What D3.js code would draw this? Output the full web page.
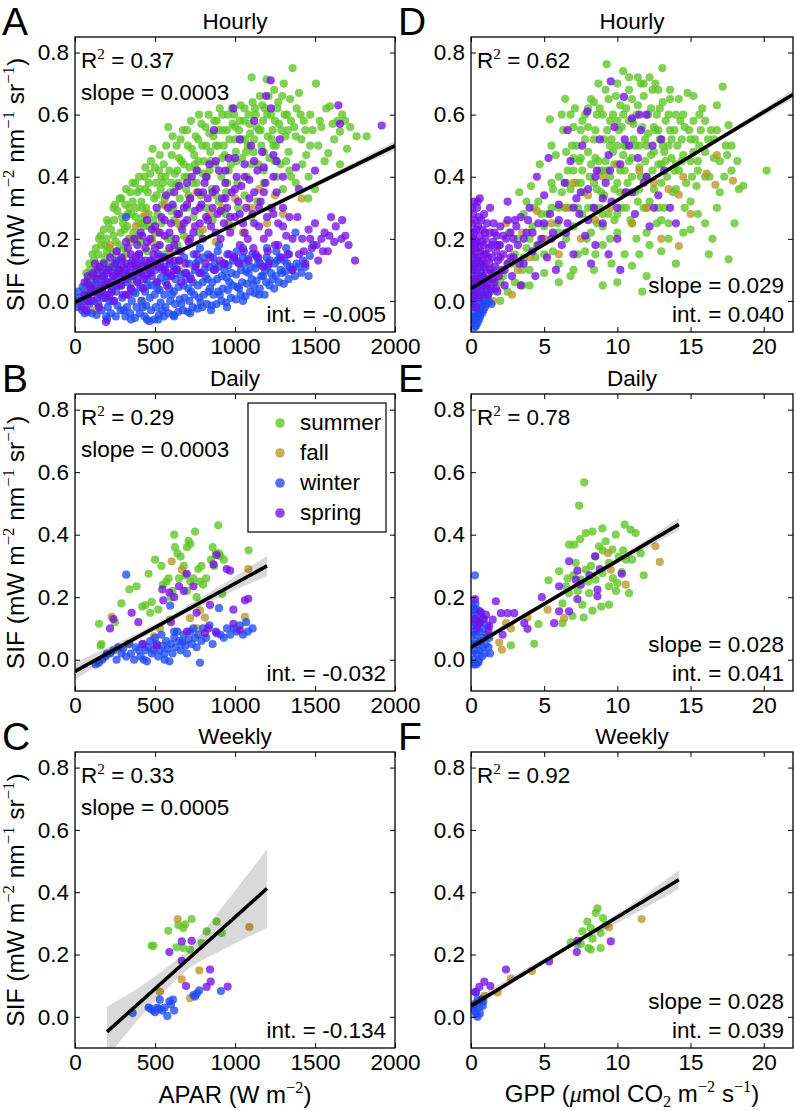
<!DOCTYPE html>
<html><head><meta charset="utf-8">
<script src="https://cdn.jsdelivr.net/npm/d3@7"></script>
<style>body{margin:0;background:#fff}svg{display:block}</style>
</head><body>
<svg id="chart" width="796" height="1111"></svg>
<script>
// ---------- DATA ----------
const seasons = ["summer", "fall", "winter", "spring"];
const xTicksApar = [0, 500, 1000, 1500, 2000];
const xTicksGpp = [0, 5, 10, 15, 20];
const yTicks = [0, 0.2, 0.4, 0.6, 0.8];
const panelLetters = ["A", "B", "C", "D", "E", "F"];
const panelTitles = ["Hourly", "Daily", "Weekly", "Hourly", "Daily", "Weekly"];
const r2Labels = ["0.37", "0.29", "0.33", "0.62", "0.78", "0.92"];
const slopeLabels = ["0.0003", "0.0003", "0.0005", "0.029", "0.028", "0.028"];
const intLabels = ["-0.005", "-0.032", "-0.134", "0.040", "0.041", "0.039"];

// Panel A: APAR hourly
const aparHourlySummer = [[60,0.04],[80,0.07],[95,0.1],[110,0.06],[120,0.13],[130,0.09],[145,0.15],[155,0.11],[165,0.18],[175,0.08],[185,0.14],[195,0.2],[205,0.12],[215,0.17],[225,0.23],[235,0.15],[245,0.26],[255,0.19],[265,0.29],[275,0.13],[285,0.22],[295,0.27],[305,0.17],[315,0.31],[325,0.24],[335,0.2],[345,0.35],[355,0.28],[365,0.22],[375,0.38],[385,0.3],[395,0.25],[405,0.36],[415,0.32],[425,0.27],[435,0.4],[445,0.3],[455,0.35],[465,0.24],[475,0.45],[485,0.49],[495,0.33],[505,0.38],[515,0.28],[525,0.42],[535,0.36],[545,0.31],[555,0.44],[565,0.4],[583,0.56],[595,0.35],[605,0.47],[615,0.3],[625,0.41],[635,0.5],[645,0.38],[655,0.33],[665,0.45],[675,0.55],[685,0.4],[695,0.36],[705,0.5],[715,0.43],[725,0.58],[735,0.38],[745,0.47],[755,0.53],[765,0.42],[775,0.6],[785,0.34],[795,0.5],[805,0.45],[815,0.56],[825,0.4],[835,0.6],[845,0.48],[855,0.36],[865,0.53],[875,0.44],[885,0.58],[895,0.5],[905,0.62],[915,0.4],[925,0.55],[935,0.47],[945,0.35],[955,0.6],[965,0.52],[975,0.44],[985,0.57],[995,0.6],[1005,0.48],[1015,0.38],[1025,0.55],[1035,0.63],[1045,0.46],[1055,0.58],[1065,0.52],[1075,0.4],[1085,0.6],[1095,0.54],[1104,0.72],[1115,0.48],[1125,0.62],[1135,0.56],[1145,0.44],[1155,0.66],[1165,0.5],[1175,0.58],[1185,0.62],[1198,0.714],[1205,0.53],[1215,0.46],[1225,0.6],[1235,0.55],[1245,0.68],[1255,0.5],[1265,0.62],[1275,0.57],[1285,0.44],[1295,0.66],[1305,0.7],[1315,0.53],[1325,0.6],[1335,0.48],[1345,0.65],[1360,0.75],[1370,0.56],[1385,0.62],[1400,0.67],[1415,0.52],[1430,0.58],[1445,0.47],[1458,0.33],[1470,0.6],[1485,0.55],[1506,0.7],[1520,0.5],[1540,0.56],[1560,0.45],[1583,0.476],[1594,0.627],[1620,0.52],[1640,0.58],[1656,0.44],[1656,0.545],[1688,0.58],[1700,0.49],[1823,0.53],[500,0.22],[540,0.25],[580,0.2],[620,0.26],[660,0.24],[700,0.3],[740,0.27],[780,0.22],[820,0.3],[860,0.26],[900,0.32],[940,0.28],[980,0.24],[1020,0.3],[1060,0.34],[1100,0.27],[1140,0.32],[1180,0.38],[1220,0.3],[1260,0.4],[1300,0.36],[1340,0.42],[1380,0.38],[1420,0.44],[1460,0.4],[1500,0.36],[100,0.03],[140,0.05],[180,0.06],[230,0.1],[270,0.08],[320,0.15],[370,0.12],[410,0.19],[450,0.16],[480,0.2],[520,0.18],[560,0.15],[600,0.2],[640,0.18],[680,0.21],[760,0.38],[840,0.42],[920,0.46],[1000,0.52],[1080,0.5],[1160,0.55],[1240,0.5],[1320,0.45],[150,0.2],[170,0.12],[200,0.16],[210,0.25],[240,0.21],[250,0.31],[280,0.18],[290,0.33],[310,0.23],[330,0.28],[350,0.19],[360,0.32],[380,0.27],[390,0.35],[400,0.21],[420,0.3],[430,0.24],[440,0.36],[460,0.28],[470,0.41],[490,0.26],[500,0.43],[510,0.34],[530,0.47],[550,0.38],[570,0.5],[590,0.42],[600,0.29],[610,0.53],[630,0.37],[650,0.46],[660,0.52],[680,0.44],[700,0.55],[710,0.34],[730,0.49],[750,0.44],[770,0.52],[790,0.57],[800,0.41],[820,0.5],[840,0.54],[850,0.45],[870,0.58],[880,0.5],[900,0.55],[920,0.6],[930,0.5],[950,0.55],[960,0.42],[980,0.62],[1000,0.56],[1010,0.45],[1030,0.58],[1040,0.52],[1060,0.62],[1070,0.48],[1090,0.57],[1110,0.64],[1120,0.52],[1130,0.6],[1150,0.55],[1170,0.63],[1180,0.48],[1200,0.6],[1210,0.66],[1230,0.52],[1250,0.58],[1270,0.64],[1290,0.55],[1310,0.6],[1330,0.55],[1350,0.58],[1380,0.53],[1410,0.6],[1440,0.55],[1470,0.5],[1530,0.58],[1570,0.62],[1610,0.57],[1670,0.6],[1720,0.56],[1760,0.53],[1250,0.45],[1180,0.42],[1100,0.44],[1350,0.4],[950,0.38],[880,0.34],[600,0.38],[700,0.4],[770,0.45],[560,0.33],[640,0.42],[70,0.09],[90,0.12],[110,0.15],[130,0.17],[160,0.21],[180,0.23],[200,0.26],[240,0.3],[280,0.33],[320,0.36],[360,0.38],[400,0.4],[440,0.43],[125,0.1],[190,0.18],[260,0.16],[300,0.25],[340,0.3],[380,0.2],[420,0.25],[460,0.38],[540,0.4]];
const aparHourlyFall = [[50,-0.02],[80,0.03],[120,-0.03],[160,0.05],[219,0.18],[250,0.1],[300,0.14],[340,0.2],[380,0.24],[420,0.0],[440,0.28],[480,0.19],[520,0.22],[560,0.31],[600,0.16],[640,0.25],[700,0.2],[720,0.33],[760,0.35],[800,0.23],[840,0.28],[880,0.19],[920,0.3],[960,0.25],[1000,0.33],[1050,0.22],[1100,0.3],[1150,0.36],[1200,0.25],[1250,0.34],[1300,0.28],[1417,0.33],[650,0.1],[350,0.06]];
const aparHourlyWinter = [[15,-0.02],[25,0.01],[18,0.03],[45,-0.03],[55,0.0],[48,0.045],[75,-0.035],[85,0.02],[78,0.06],[90,-0.01],[105,-0.04],[115,0.0],[108,0.04],[118,0.08],[135,-0.045],[145,-0.01],[140,0.03],[148,0.07],[165,-0.03],[175,0.01],[168,0.05],[178,0.09],[195,-0.05],[205,-0.02],[198,0.02],[208,0.06],[192,0.1],[225,-0.04],[235,0.0],[228,0.04],[238,0.08],[232,0.11],[255,-0.05],[265,-0.015],[258,0.03],[268,0.07],[262,0.12],[285,-0.03],[295,0.01],[288,0.05],[298,0.09],[292,0.13],[315,-0.05],[325,-0.02],[318,0.02],[328,0.06],[322,0.1],[319,0.27],[345,-0.04],[355,0.0],[348,0.04],[358,0.08],[352,0.12],[375,-0.055],[385,-0.02],[378,0.025],[388,0.065],[382,0.11],[405,-0.04],[415,0.0],[408,0.045],[418,0.085],[412,0.13],[435,-0.05],[445,-0.015],[438,0.03],[448,0.07],[442,0.11],[465,-0.065],[475,-0.03],[468,0.01],[478,0.05],[472,0.09],[470,0.13],[495,-0.06],[505,-0.02],[498,0.02],[508,0.06],[502,0.1],[525,-0.045],[535,-0.005],[528,0.035],[538,0.075],[532,0.12],[555,-0.05],[565,-0.02],[558,0.02],[568,0.06],[562,0.1],[560,0.14],[585,-0.04],[595,0.0],[588,0.04],[598,0.08],[592,0.12],[615,-0.045],[625,-0.01],[618,0.03],[628,0.07],[622,0.11],[645,-0.035],[655,0.005],[648,0.045],[658,0.085],[652,0.13],[675,-0.03],[685,0.01],[678,0.05],[688,0.09],[682,0.14],[705,-0.035],[715,0.0],[708,0.04],[718,0.08],[712,0.12],[735,-0.02],[745,0.02],[738,0.06],[748,0.1],[742,0.15],[765,-0.025],[775,0.01],[768,0.05],[778,0.09],[772,0.13],[795,-0.02],[805,0.02],[798,0.06],[808,0.1],[802,0.14],[825,-0.01],[835,0.03],[828,0.07],[838,0.11],[832,0.15],[855,-0.015],[865,0.02],[858,0.06],[868,0.1],[862,0.14],[885,-0.01],[895,0.03],[888,0.07],[898,0.11],[892,0.16],[915,0.0],[925,0.04],[918,0.08],[928,0.12],[945,-0.005],[955,0.035],[948,0.075],[958,0.115],[952,0.15],[975,0.01],[985,0.05],[978,0.09],[988,0.13],[1005,0.005],[1015,0.045],[1008,0.085],[1018,0.125],[1012,0.16],[1035,0.02],[1045,0.06],[1038,0.1],[1048,0.14],[1065,0.015],[1075,0.055],[1068,0.095],[1078,0.135],[1095,0.03],[1105,0.07],[1098,0.11],[1108,0.15],[1125,0.025],[1135,0.065],[1128,0.105],[1138,0.14],[1155,0.04],[1165,0.08],[1158,0.12],[1185,0.02],[1195,0.06],[1188,0.1],[1198,0.14],[1215,0.05],[1225,0.09],[1218,0.13],[1245,0.04],[1255,0.08],[1248,0.12],[1258,0.16],[1275,0.06],[1285,0.1],[1278,0.14],[1305,0.055],[1315,0.095],[1308,0.13],[1335,0.07],[1345,0.11],[1338,0.15],[1375,0.08],[1385,0.12],[1378,0.22],[1415,0.09],[1425,0.13],[1460,0.08],[1468,0.145],[1490,0.18],[30,0.0],[60,0.02],[95,0.03],[125,0.05],[155,0.02],[185,0.07],[215,0.0],[245,0.05],[275,0.1],[305,-0.03],[335,0.08],[365,0.03],[395,0.09],[425,-0.02],[455,0.05],[485,0.11],[515,0.04],[545,-0.03],[575,0.08],[605,0.02],[635,0.1],[665,-0.01],[695,0.07],[725,0.03],[755,0.12],[785,-0.005],[815,0.08],[845,0.04],[875,0.12],[905,0.02],[935,0.1],[965,0.06],[995,0.14],[1025,0.04],[1055,0.12],[1085,0.09],[1115,0.05],[1145,0.12],[1175,0.08],[1205,0.11],[1235,0.07],[1265,0.13],[1295,0.09],[1325,0.12],[1355,0.1],[1400,0.11],[1440,0.11],[60,-0.04],[200,-0.06],[350,-0.06],[450,-0.06],[520,-0.06],[620,-0.05],[720,-0.04],[850,-0.03],[950,-0.02],[1050,0.0],[1150,0.02],[260,0.13],[400,0.15],[520,0.15],[650,0.16],[780,0.17],[900,0.18],[1050,0.17],[1200,0.17],[1320,0.17]];
const aparHourlySpring = [[40,-0.02],[60,0.02],[70,-0.03],[90,0.05],[100,0.0],[120,0.03],[130,0.07],[140,0.1],[150,-0.02],[160,0.04],[170,0.08],[180,0.12],[190,0.01],[200,0.06],[194,-0.068],[210,0.1],[220,0.14],[230,0.03],[240,0.08],[250,0.12],[260,0.16],[270,0.05],[280,0.1],[290,0.14],[300,0.02],[310,0.07],[320,0.12],[330,0.17],[340,0.09],[350,0.04],[360,0.13],[370,0.2],[380,0.1],[390,0.06],[400,0.15],[410,0.22],[420,0.11],[430,0.07],[440,0.17],[450,0.26],[460,0.12],[470,0.2],[480,0.08],[490,0.15],[500,0.24],[510,0.3],[520,0.11],[530,0.18],[540,0.27],[550,0.14],[560,0.21],[570,0.34],[580,0.09],[590,0.17],[600,0.25],[610,0.31],[620,0.13],[630,0.2],[640,0.28],[650,0.37],[660,0.16],[670,0.23],[680,0.3],[690,0.12],[700,0.26],[710,0.19],[720,0.33],[730,0.4],[740,0.22],[750,0.29],[760,0.15],[770,0.35],[780,0.25],[790,0.31],[800,0.2],[810,0.38],[820,0.27],[830,0.33],[840,0.44],[850,0.24],[860,0.3],[869,0.55],[880,0.36],[890,0.28],[900,0.42],[910,0.2],[920,0.33],[930,0.25],[940,0.38],[950,0.3],[960,0.46],[970,0.22],[980,0.35],[990,0.62],[1000,0.27],[1010,0.4],[1020,0.32],[1030,0.18],[1040,0.37],[1050,0.25],[1060,0.44],[1070,0.3],[1080,0.2],[1090,0.39],[1100,0.5],[1110,0.28],[1120,0.35],[1130,0.15],[1140,0.42],[1150,0.24],[1160,0.32],[1170,0.48],[1180,0.2],[1190,0.38],[1194,0.66],[1200,0.27],[1210,0.12],[1223,0.71],[1225,0.62],[1230,0.3],[1240,0.4],[1250,0.18],[1260,0.35],[1270,0.25],[1280,0.52],[1290,0.14],[1300,0.3],[1320,0.21],[1340,0.27],[1360,0.1],[1380,0.43],[1400,0.15],[1420,0.2],[1440,0.12],[1460,0.23],[1480,0.17],[1500,0.25],[1520,0.13],[1540,0.2],[1560,0.22],[1580,0.16],[1600,0.27],[1620,0.19],[1646,0.63],[1656,0.57],[1665,0.2],[1690,0.21],[1750,0.13],[1917,0.565],[1500,0.42],[1400,0.36],[1120,0.58],[1030,0.52],[60,0.06],[80,0.08],[110,0.09],[125,0.12],[155,0.11],[185,0.05],[215,0.02],[245,0.0],[275,0.09],[305,0.11],[335,0.02],[365,0.08],[395,0.12],[425,0.04],[455,0.09],[485,0.13],[515,0.06],[545,0.1],[575,0.05],[605,0.08],[635,0.1],[665,0.06],[695,0.09],[725,0.07],[755,0.11],[785,0.09],[815,0.12],[845,0.14],[875,0.1],[905,0.13],[935,0.12],[965,0.15],[995,0.14],[1025,0.12],[1055,0.16],[1085,0.13],[1115,0.17],[1145,0.14],[1175,0.11],[1205,0.16],[320,0.19],[350,0.15],[390,0.18],[420,0.21],[450,0.19],[480,0.23],[500,0.17],[530,0.22],[560,0.26],[590,0.22],[620,0.18],[650,0.28],[680,0.25],[700,0.31],[720,0.2],[750,0.24],[780,0.3],[800,0.35],[830,0.26],[860,0.35],[880,0.22],[910,0.29],[940,0.33],[970,0.27],[1000,0.36],[1030,0.28],[1060,0.22],[1090,0.33],[1120,0.25],[1150,0.3],[1180,0.35],[1210,0.22],[1240,0.28],[1270,0.18],[1300,0.24],[1330,0.15],[1360,0.2],[1390,0.27],[1430,0.16],[1470,0.2],[1510,0.18],[1550,0.16],[1590,0.21],[1630,0.24],[1670,0.26],[1710,0.18],[80,0.0],[100,0.04],[140,0.01],[170,0.03],[200,0.09],[230,0.06],[260,0.09],[290,0.05],[320,0.08],[350,0.11],[380,0.14],[410,0.09],[440,0.13],[470,0.1],[500,0.12],[530,0.14],[560,0.11],[590,0.13],[620,0.1],[650,0.13],[700,0.38],[760,0.42],[820,0.4],[880,0.45],[940,0.42],[1000,0.46],[1060,0.4],[1120,0.45],[1180,0.43],[1240,0.47],[1300,0.4],[1260,0.45],[620,0.35],[580,0.3]];

// Panel B: APAR daily
const aparDailySummer = [[150,0.115],[160,0.045],[165,0.05],[250,0.12],[290,0.18],[340,0.225],[385,0.235],[420,0.17],[440,0.175],[460,0.275],[470,0.15],[480,0.185],[500,0.32],[520,0.16],[540,0.3],[550,0.24],[570,0.25],[585,0.26],[600,0.2],[610,0.22],[620,0.4],[625,0.36],[640,0.34],[660,0.33],[680,0.3],[690,0.27],[700,0.36],[710,0.38],[720,0.37],[720,0.25],[740,0.26],[750,0.41],[760,0.2],[770,0.29],[780,0.25],[790,0.3],[800,0.24],[820,0.26],[850,0.32],[860,0.36],[870,0.3],[880,0.34],[895,0.43],[900,0.34],[910,0.33],[920,0.21],[930,0.32],[1085,0.35],[700,0.22],[650,0.26]];
const aparDailyFall = [[229,0.137],[494,0.075],[531,0.1],[604,0.315],[667,0.288],[673,0.06],[594,0.128],[719,0.133],[781,0.158],[812,0.135],[1062,0.137],[1083,0.29],[330,0.05],[760,0.1]];
const aparDailyWinter = [[130,-0.015],[170,0.0],[190,0.01],[220,0.02],[240,0.03],[260,0.0],[270,0.04],[290,0.02],[300,0.035],[320,0.272],[320,0.01],[340,0.05],[350,0.02],[370,0.0],[380,0.04],[400,0.03],[410,0.01],[420,0.05],[430,0.0],[440,0.03],[450,-0.005],[460,0.04],[470,0.06],[480,0.02],[490,0.03],[500,0.07],[510,0.05],[520,0.01],[530,0.03],[540,0.08],[550,0.045],[560,0.02],[570,0.06],[580,0.035],[590,-0.005],[595,0.173],[600,0.05],[610,0.02],[620,0.07],[630,0.04],[640,0.09],[650,0.06],[660,0.03],[670,0.055],[680,0.08],[690,0.045],[700,0.02],[710,0.065],[720,0.09],[730,0.05],[740,0.1],[750,0.07],[760,0.04],[770,0.08],[781,-0.01],[790,0.06],[800,0.1],[820,0.07],[840,0.11],[860,0.05],[880,0.09],[900,0.165],[910,0.08],[930,0.07],[950,0.1],[970,0.08],[990,0.1],[1010,0.09],[1030,0.11],[1050,0.08],[1070,0.12],[1080,0.09],[1110,0.1],[150,-0.01],[200,0.02],[560,0.0],[620,0.09]];
const aparDailySpring = [[219,0.1],[240,0.13],[354,0.15],[396,0.12],[427,0.05],[510,0.045],[546,0.225],[552,0.19],[590,0.215],[620,0.2],[650,0.235],[680,0.22],[698,0.275],[740,0.235],[760,0.15],[812,0.085],[833,0.1],[844,0.175],[865,0.305],[885,0.335],[885,0.085],[948,0.29],[969,0.285],[990,0.16],[990,0.115],[1031,0.095],[1062,0.19],[1083,0.195],[600,0.12],[700,0.09]];

// Panel C: APAR weekly
const aparWeeklySummer = [[479,0.228],[490,0.228],[583,0.276],[635,0.223],[646,0.295],[677,0.285],[688,0.297],[677,0.221],[719,0.216],[729,0.314],[792,0.237],[823,0.274],[885,0.306],[917,0.269]];
const aparWeeklyFall = [[642,0.314],[531,0.08],[667,0.12],[777,0.149],[719,0.06],[1090,0.288]];
const aparWeeklyWinter = [[360,0.012],[460,0.03],[475,0.025],[490,0.02],[500,0.015],[515,0.03],[525,0.025],[530,0.055],[545,0.02],[560,0.03],[577,0.003],[590,0.05],[600,0.04],[612,0.055],[620,0.02],[740,0.07],[750,0.065],[762,0.075],[777,0.085],[912,0.083]];
const aparWeeklySpring = [[590,0.208],[667,0.242],[729,0.244],[667,0.18],[694,0.099],[844,0.152],[823,0.096],[848,0.113],[954,0.097]];

// Panel D: GPP hourly
const gppHourlySummer = [[1.0,0.02],[1.5,0.05],[2.0,0.0],[2.2,0.08],[2.5,0.03],[2.8,0.12],[3.0,0.06],[3.2,0.2],[3.3,0.35],[3.5,0.1],[3.6,0.28],[3.8,0.17],[4.0,0.05],[4.1,0.37],[4.2,0.24],[4.4,0.14],[4.6,0.32],[4.7,0.44],[4.9,0.2],[5.0,0.09],[5.2,0.28],[5.39,0.585],[5.5,0.38],[5.6,0.16],[5.8,0.47],[5.9,0.25],[6.0,0.12],[6.2,0.35],[6.3,0.55],[6.43,0.651],[6.5,0.2],[6.6,0.42],[6.7,0.3],[6.8,0.08],[6.9,0.5],[7.0,0.24],[7.1,0.62],[7.2,0.38],[7.3,0.15],[7.4,0.45],[7.5,0.55],[7.6,0.28],[7.7,0.35],[7.8,0.6],[7.9,0.2],[8.0,0.48],[8.1,0.4],[8.2,0.65],[8.3,0.3],[8.4,0.1],[8.5,0.55],[8.6,0.25],[8.7,0.45],[8.8,0.62],[8.9,0.35],[9.0,0.18],[9.1,0.52],[9.27,0.762],[9.3,0.42],[9.4,0.28],[9.5,0.58],[9.6,0.12],[9.7,0.48],[9.8,0.36],[9.9,0.66],[10.0,0.22],[10.1,0.55],[10.2,0.42],[10.3,0.3],[10.4,0.6],[10.5,0.15],[10.6,0.5],[10.7,0.38],[10.8,0.68],[10.9,0.26],[11.0,0.46],[11.1,0.57],[11.2,0.35],[11.3,0.2],[11.4,0.63],[11.5,0.43],[11.6,0.7],[11.7,0.03],[11.8,0.3],[11.9,0.52],[12.0,0.4],[12.1,0.6],[12.2,0.18],[12.3,0.47],[12.4,0.68],[12.5,0.36],[12.6,0.55],[12.7,0.25],[12.8,0.44],[12.9,0.62],[13.07,0.75],[13.1,0.5],[13.2,0.3],[13.3,0.58],[13.4,0.4],[13.5,0.2],[13.6,0.65],[13.7,0.46],[13.8,0.35],[13.9,0.55],[14.0,0.6],[14.2,0.42],[14.4,0.52],[14.6,0.3],[14.8,0.67],[15.0,0.45],[15.2,0.58],[15.4,0.37],[15.6,0.5],[15.8,0.62],[16.0,0.4],[16.25,0.15],[16.4,0.55],[16.6,0.46],[16.8,0.63],[17.0,0.35],[17.2,0.69],[17.4,0.5],[17.6,0.134],[17.6,0.566],[17.8,0.42],[18.0,0.25],[18.2,0.45],[18.6,0.371],[20.2,0.42],[15.0,0.23],[14.0,0.12],[12.0,0.08],[11.0,0.113],[13.0,0.16],[10.0,0.06],[9.0,0.05],[15.5,0.28],[16.8,0.3],[17.5,0.47],[7.2,0.5],[7.6,0.42],[8.0,0.56],[8.4,0.38],[8.8,0.3],[9.2,0.45],[9.6,0.52],[10.0,0.38],[10.4,0.47],[10.8,0.58],[11.2,0.5],[11.6,0.4],[12.0,0.5],[12.4,0.42],[12.8,0.55],[13.2,0.48],[13.6,0.55],[8.2,0.22],[9.0,0.28],[9.8,0.26],[10.6,0.3],[11.4,0.32],[12.2,0.32],[13.0,0.38],[7.0,0.42],[6.4,0.3],[5.6,0.36],[4.8,0.28],[4.0,0.2],[3.6,0.14],[3.0,0.15],[2.6,0.22],[8.6,0.6],[9.4,0.65],[10.2,0.63],[11.0,0.65],[11.8,0.66],[10.0,0.7],[12.6,0.7],[14.2,0.65],[14.6,0.56],[15.2,0.48],[15.6,0.6],[16.2,0.52],[16.8,0.55],[14.0,0.36],[14.4,0.45],[13.0,0.26],[15.0,0.32],[3.5,0.05],[4.0,0.1],[4.5,0.18],[5.0,0.24],[5.5,0.3],[6.0,0.4],[6.0,0.22],[6.5,0.48],[6.8,0.36],[7.0,0.56],[7.3,0.3],[7.5,0.46],[7.8,0.52],[7.8,0.16],[8.0,0.62],[8.2,0.44],[8.4,0.52],[8.6,0.36],[8.8,0.42],[9.0,0.6],[9.1,0.34],[9.3,0.55],[9.5,0.4],[9.7,0.6],[9.8,0.44],[10.0,0.5],[10.2,0.35],[10.3,0.56],[10.5,0.42],[10.6,0.62],[10.8,0.45],[11.0,0.4],[11.1,0.52],[11.3,0.6],[11.5,0.5],[11.7,0.56],[11.9,0.45],[12.1,0.54],[12.3,0.62],[12.5,0.48],[12.7,0.6],[12.9,0.52],[13.1,0.64],[13.3,0.45],[13.5,0.6],[13.7,0.52],[13.9,0.42],[14.1,0.5],[14.3,0.58],[14.5,0.47],[14.7,0.38],[14.9,0.55],[15.1,0.4],[15.3,0.52],[15.5,0.45],[15.7,0.55],[16.0,0.48],[16.3,0.4],[16.6,0.52],[17.0,0.45],[17.3,0.4],[17.8,0.5],[18.3,0.36],[9.0,0.24],[10.0,0.28],[11.0,0.25],[12.0,0.22],[12.8,0.3],[8.5,0.15],[7.0,0.1],[6.0,0.06],[5.0,0.15],[9.5,0.2],[11.5,0.15],[13.5,0.25],[14.5,0.22],[16.0,0.25],[16.5,0.2],[5.5,0.5],[6.2,0.6],[4.3,0.3],[3.8,0.32],[2.5,0.12],[2.0,0.06],[1.5,0.1],[10.4,0.74],[11.4,0.72],[12.2,0.72],[8.7,0.7],[13.6,0.68],[15.2,0.66],[6.0,0.3],[6.5,0.38],[7.0,0.46],[7.5,0.38],[8.0,0.3],[8.5,0.46],[9.0,0.42],[9.5,0.5],[10.0,0.58],[10.5,0.5],[11.0,0.58],[11.5,0.36],[12.0,0.3],[12.5,0.56],[13.0,0.44],[13.5,0.5],[14.0,0.44],[14.5,0.6],[15.0,0.52],[15.5,0.42],[16.0,0.58],[6.8,0.6],[7.6,0.58],[8.4,0.64],[9.2,0.68],[10.8,0.72],[11.8,0.7],[12.8,0.68]];
const gppHourlyFall = [[1.0,0.12],[1.5,0.0],[2.0,0.18],[2.4,0.25],[2.8,0.02],[3.2,0.1],[3.5,0.22],[4.0,0.14],[4.5,0.29],[5.0,0.2],[5.5,0.25],[6.0,0.15],[6.5,0.3],[7.0,0.38],[7.5,0.2],[8.0,0.34],[8.5,0.26],[9.0,0.4],[9.5,0.3],[10.0,0.44],[10.5,0.35],[11.0,0.25],[11.5,0.42],[12.0,0.3],[12.5,0.38],[13.0,0.2],[13.5,0.36],[14.2,0.342],[14.5,0.4],[15.0,0.28],[16.1,0.41],[16.7,0.374],[16.8,0.47],[17.9,0.387],[14.2,0.177],[1.8,0.08],[0.6,0.15]];
const gppHourlyWinter = [[0.05,-0.05],[0.1,-0.02],[0.08,0.01],[0.12,0.04],[0.06,0.07],[0.1,0.1],[0.15,0.13],[0.05,0.16],[0.2,-0.07],[0.25,-0.04],[0.22,-0.01],[0.28,0.02],[0.2,0.05],[0.3,0.08],[0.25,0.11],[0.3,0.14],[0.18,0.18],[0.35,-0.08],[0.4,-0.05],[0.38,-0.02],[0.45,0.01],[0.4,0.04],[0.48,0.07],[0.42,0.1],[0.5,0.13],[0.55,-0.06],[0.6,-0.03],[0.58,0.0],[0.65,0.03],[0.6,0.06],[0.7,0.09],[0.65,0.12],[0.75,-0.04],[0.8,-0.01],[0.78,0.02],[0.85,0.05],[0.8,0.08],[0.9,0.11],[0.95,-0.02],[1.0,0.01],[1.05,0.04],[1.1,0.07],[1.2,0.0],[1.3,0.03],[1.4,-0.01],[0.15,-0.06],[0.32,-0.06],[0.5,-0.04],[0.7,-0.02],[0.9,0.0],[1.15,0.02],[0.12,0.2],[0.3,0.19],[0.05,0.22],[0.1,-0.07],[0.25,-0.085],[0.45,-0.07],[0.62,-0.05],[0.85,-0.03],[1.05,-0.01]];
const gppHourlySpring = [[0.05,0.0],[0.1,0.05],[0.08,0.1],[0.12,0.15],[0.06,0.2],[0.1,0.25],[0.15,0.28],[0.2,0.02],[0.25,0.07],[0.22,0.12],[0.28,0.17],[0.2,0.22],[0.3,0.26],[0.35,-0.02],[0.4,0.04],[0.38,0.09],[0.45,0.14],[0.4,0.19],[0.48,0.24],[0.42,0.3],[0.55,0.01],[0.6,0.06],[0.58,0.11],[0.65,0.16],[0.6,0.21],[0.7,0.26],[0.75,0.03],[0.8,0.08],[0.78,0.13],[0.85,0.18],[0.8,0.23],[0.9,0.28],[0.95,0.05],[1.0,0.1],[1.05,0.15],[1.0,0.2],[1.1,0.25],[1.15,0.02],[1.2,0.07],[1.25,0.12],[1.2,0.17],[1.3,0.22],[1.35,0.04],[1.4,0.09],[1.45,0.14],[1.5,0.19],[1.55,0.25],[1.6,0.06],[1.65,0.11],[1.7,0.16],[1.75,0.21],[1.8,0.03],[1.85,0.13],[1.9,0.08],[1.95,0.18],[2.0,0.24],[2.1,0.1],[2.2,0.15],[2.3,0.05],[2.4,0.2],[2.5,0.12],[2.6,0.17],[2.7,0.22],[2.8,0.08],[2.9,0.14],[3.0,0.26],[0.45,0.32],[0.6,0.33],[1.3,0.3],[3.2,0.18],[3.4,0.27],[3.6,0.12],[3.8,0.22],[4.0,0.3],[4.2,0.16],[4.4,0.08],[4.6,0.25],[4.8,0.2],[5.0,0.34],[5.2,0.14],[5.4,0.28],[5.6,0.22],[5.8,0.1],[6.0,0.31],[6.2,0.18],[6.4,0.38],[6.6,0.25],[6.8,0.45],[7.0,0.15],[7.2,0.33],[7.4,0.28],[7.6,0.5],[7.8,0.21],[7.95,0.61],[8.0,0.36],[8.2,0.12],[8.4,0.3],[8.6,0.42],[8.8,0.52],[9.0,0.25],[9.2,0.38],[9.4,0.47],[9.55,0.707],[9.6,0.32],[9.8,0.56],[10.0,0.2],[10.2,0.44],[10.45,0.657],[10.6,0.35],[10.8,0.5],[11.0,0.588],[11.2,0.28],[11.4,0.46],[11.6,0.55],[11.8,0.38],[12.0,0.6],[12.2,0.24],[12.4,0.5],[12.8,0.34],[13.2,0.42],[13.6,0.3],[14.0,0.25],[5.3,0.46],[6.6,0.55],[4.5,0.4],[2.5,0.32],[3.4,0.05],[8.5,0.18],[9.4,0.15],[10.2,0.1],[0.15,0.02],[0.25,0.18],[0.35,0.23],[0.5,0.17],[0.55,0.27],[0.7,0.12],[0.75,0.19],[0.9,0.15],[0.95,0.22],[1.1,0.05],[1.15,0.14],[1.3,0.1],[1.4,0.18],[1.5,0.07],[1.6,0.22],[1.7,0.04],[1.8,0.18],[2.0,0.14],[2.2,0.21],[2.3,0.1],[2.5,0.26],[2.7,0.14],[2.9,0.2],[3.1,0.24],[3.3,0.12],[3.6,0.2],[3.9,0.26],[4.2,0.22],[4.6,0.18],[5.0,0.25],[5.5,0.2],[6.0,0.26],[6.5,0.22],[7.0,0.3],[7.5,0.35],[8.0,0.26],[8.5,0.4],[9.0,0.33],[9.5,0.42],[10.0,0.3],[10.5,0.52],[11.0,0.35],[11.5,0.6],[12.0,0.4],[12.5,0.3],[13.0,0.52],[0.1,0.3],[0.2,0.32],[0.05,0.12],[0.3,0.06],[0.15,0.2]];

// Panel E: GPP daily
const gppDailySummer = [[7.73,0.567],[7.39,0.493],[5.3,0.254],[6.02,0.283],[4.32,0.051],[2.73,0.046],[4.61,0.114],[6.7,0.368],[7.05,0.368],[7.45,0.386],[7.84,0.405],[8.3,0.41],[8.98,0.42],[9.89,0.4],[10.5,0.432],[10.9,0.416],[11.25,0.405],[11,0.32],[11.6,0.34],[11.8,0.27],[10.8,0.213],[9.43,0.176],[8.9,0.17],[8.3,0.157],[7.7,0.135],[6.93,0.14],[6.25,0.117],[7.6,0.176],[8.07,0.213],[8.5,0.256],[8.98,0.277],[9.43,0.31],[8.5,0.33],[8.75,0.363],[9.2,0.379],[9.66,0.352],[10.1,0.33],[10.6,0.32],[10,0.245],[9.43,0.235],[7.84,0.288],[7.5,0.256],[7.16,0.31],[6.7,0.213],[6.48,0.235],[6.25,0.18],[9.7,0.26],[10.3,0.28],[8.2,0.3],[9.0,0.35],[7.3,0.22],[8.0,0.25],[7.0,0.27],[6.6,0.26],[10.4,0.35],[9.9,0.22]];
const gppDailyFall = [[2.11,0.032],[1.93,0.055],[2.73,0.1],[3.86,0.135],[5.23,0.16],[6.36,0.133],[9.36,0.341],[9.55,0.288],[10.57,0.24],[12.6,0.363],[12.9,0.313],[2.39,0.117],[0.3,0.15],[0.2,0.13]];
const gppDailyWinter = [[0.05,-0.01],[0.1,0.02],[0.15,0.05],[0.08,0.08],[0.12,0.11],[0.06,0.14],[0.27,0.27],[0.2,0.0],[0.25,0.03],[0.3,0.06],[0.22,0.09],[0.28,0.12],[0.2,0.16],[0.35,-0.015],[0.4,0.02],[0.45,0.05],[0.38,0.08],[0.42,0.11],[0.5,0.14],[0.55,0.0],[0.6,0.03],[0.65,0.06],[0.58,0.09],[0.62,0.12],[0.7,0.15],[0.75,0.01],[0.8,0.04],[0.85,0.07],[0.78,0.1],[0.9,0.13],[0.95,0.02],[1.0,0.05],[1.05,0.08],[1.1,0.11],[1.2,0.04],[1.25,0.07],[1.3,0.02],[0.3,0.18],[0.1,0.17],[0.5,-0.01],[0.15,-0.015],[0.4,0.16]];
const gppDailySpring = [[0.27,0.194],[1.02,0.144],[1.7,0.187],[2.05,0.149],[2.5,0.149],[2.95,0.149],[1.48,0.128],[3.64,0.117],[3.86,0.099],[2.16,0.08],[4.84,0.2],[5.68,0.117],[6.02,0.155],[6.02,0.235],[6.7,0.315],[6.7,0.155],[7.27,0.285],[7.27,0.194],[7.16,0.256],[8.48,0.331],[8.64,0.224],[8.64,0.203],[10.3,0.275],[0.57,0.117],[0.4,0.1],[1.25,0.107],[0.8,0.13],[0.6,0.155],[1.2,0.09],[0.3,0.13],[8.1,0.27],[7.5,0.24],[8.8,0.29]];

// Panel F: GPP weekly
const gppWeeklySummer = [[6.82,0.239],[7.61,0.274],[7.95,0.306],[8.18,0.285],[8.3,0.251],[8.02,0.221],[8.18,0.216],[7.5,0.234],[8.64,0.348],[8.52,0.333],[8.86,0.269],[9.02,0.317],[8.86,0.221],[9.2,0.295],[7.27,0.232]];
const gppWeeklyFall = [[11.66,0.314],[9.43,0.287],[4.16,0.147],[2.73,0.123],[1.82,0.078],[0.91,0.067],[0.68,0.051]];
const gppWeeklyWinter = [[0.34,0.078],[0.45,0.056],[0.23,0.04],[0.3,0.019],[0.45,0.0],[0.61,0.011],[0.8,0.035],[0.75,0.056],[0.84,0.049],[0.35,0.008],[0.15,0.025],[0.55,0.03]];
const gppWeeklySpring = [[9.55,0.242],[7.23,0.208],[7.27,0.244],[5.34,0.178],[2.39,0.152],[0.57,0.096],[0.91,0.113],[1.32,0.099],[0.3,0.08]];

// Regression lines [x, y] and confidence bands [x, low, high]
const aparHourlyFit = [[0, -0.005], [2000, 0.5]];
const aparDailyFit = [[0, -0.037], [1200, 0.3]];
const aparWeeklyFit = [[200, -0.048], [1200, 0.412]];
const gppHourlyFit = [[0, 0.04], [22, 0.665]];
const gppDailyFit = [[0, 0.04], [14.2, 0.433]];
const gppWeeklyFit = [[0, 0.035], [14.2, 0.44]];
const aparHourlyBand = [[0,-0.016,0.006],[500,0.116,0.126],[1000,0.243,0.252],[1500,0.366,0.382],[2000,0.485,0.515]];
const aparDailyBand = [[0,-0.064,-0.01],[300,0.033,0.062],[600,0.122,0.142],[900,0.198,0.234],[1200,0.268,0.332]];
const aparWeeklyBand = [[200,-0.13,0.032],[300,-0.067,0.063],[400,-0.006,0.094],[500,0.05,0.13],[600,0.103,0.169],[700,0.15,0.214],[800,0.183,0.273],[900,0.209,0.339],[1000,0.235,0.405],[1100,0.261,0.471],[1200,0.285,0.539]];
const gppHourlyBand = [[0,0.031,0.049],[5,0.178,0.186],[11,0.349,0.356],[16,0.49,0.5],[22,0.65,0.68]];
const gppDailyBand = [[0,0.028,0.052],[4,0.144,0.158],[7,0.228,0.24],[10,0.306,0.324],[14.2,0.413,0.453]];
const gppWeeklyBand = [[0,0.02,0.05],[4,0.142,0.162],[7,0.227,0.24],[10,0.301,0.331],[14.2,0.41,0.47]];

// ---------- STYLE / LAYOUT ----------
const seasonColors = ["#5ec524", "#bb9628", "#1f4af5", "#7410e8"];
const FONT = "'Liberation Sans', Arial, Helvetica, sans-serif";
const SERIF = "'Liberation Serif', 'DejaVu Serif', serif";
const FS = 22.5;
const colLeft = [75, 471], colWidth = [320, 322];
const rowTop = [37, 394, 752], rowHeight = [295, 297, 296];

const panels = [
  {col:0,row:0,xd:[0,2000],xt:xTicksApar,pts:[aparHourlySummer,aparHourlyFall,aparHourlyWinter,aparHourlySpring],fit:aparHourlyFit,band:aparHourlyBand},
  {col:0,row:1,xd:[0,2000],xt:xTicksApar,pts:[aparDailySummer,aparDailyFall,aparDailyWinter,aparDailySpring],fit:aparDailyFit,band:aparDailyBand},
  {col:0,row:2,xd:[0,2000],xt:xTicksApar,pts:[aparWeeklySummer,aparWeeklyFall,aparWeeklyWinter,aparWeeklySpring],fit:aparWeeklyFit,band:aparWeeklyBand},
  {col:1,row:0,xd:[0,22],xt:xTicksGpp,pts:[gppHourlySummer,gppHourlyFall,gppHourlyWinter,gppHourlySpring],fit:gppHourlyFit,band:gppHourlyBand},
  {col:1,row:1,xd:[0,22],xt:xTicksGpp,pts:[gppDailySummer,gppDailyFall,gppDailyWinter,gppDailySpring],fit:gppDailyFit,band:gppDailyBand},
  {col:1,row:2,xd:[0,22],xt:xTicksGpp,pts:[gppWeeklySummer,gppWeeklyFall,gppWeeklyWinter,gppWeeklySpring],fit:gppWeeklyFit,band:gppWeeklyBand}
];

const svg = d3.select("#chart");
svg.append("rect").attr("width", 796).attr("height", 1111).attr("fill", "#fff");
const defs = svg.append("defs");

function rich(sel, parts, size) {
  let shift = 0;
  parts.forEach(([t, k]) => {
    const ts = sel.append("tspan").text(t);
    let target = 0;
    if (k === "sup") { ts.attr("font-size", size * 0.68).attr("font-family", SERIF); target = -0.42 * size; }
    else if (k === "sub") { ts.attr("font-size", size * 0.68).attr("font-family", SERIF); target = 0.2 * size; }
    else if (k === "it") { ts.attr("font-style", "italic").attr("font-family", SERIF); }
    if (target !== shift) { ts.attr("dy", target - shift); shift = target; }
  });
}

panels.forEach((p, i) => {
  const left = colLeft[p.col], w = colWidth[p.col];
  const top = rowTop[p.row], h = rowHeight[p.row];
  const x = d3.scaleLinear().domain(p.xd).range([left, left + w]);
  const y = d3.scaleLinear().domain([-0.1, 0.85]).range([top + h, top]);
  const clipId = "clip" + i;
  defs.append("clipPath").attr("id", clipId).append("rect")
    .attr("x", left).attr("y", top).attr("width", w).attr("height", h);
  const g = svg.append("g");
  const plot = g.append("g").attr("clip-path", `url(#${clipId})`);

  p.pts.forEach((arr, si) => {
    plot.append("g").selectAll("circle").data(arr).join("circle")
      .attr("cx", d => x(d[0])).attr("cy", d => y(d[1])).attr("r", 4.1)
      .attr("fill", seasonColors[si]).attr("fill-opacity", 0.78);
  });

  plot.append("path").datum(p.band)
    .attr("d", d3.area().x(d => x(d[0])).y0(d => y(d[1])).y1(d => y(d[2])).curve(d3.curveMonotoneX))
    .attr("fill", "#000").attr("fill-opacity", 0.15);
  plot.append("path").datum(p.fit)
    .attr("d", d3.line().x(d => x(d[0])).y(d => y(d[1])))
    .attr("stroke", "#000").attr("stroke-width", 3.6).attr("fill", "none");

  const tick = 5;
  const ax = [
    [d3.axisBottom(x).tickValues(p.xt).tickFormat(d3.format("d")), `translate(0,${top + h})`],
    [d3.axisTop(x).tickValues(p.xt).tickFormat(""), `translate(0,${top})`],
    [d3.axisLeft(y).tickValues(yTicks).tickFormat(d3.format(".1f")), `translate(${left},0)`],
    [d3.axisRight(y).tickValues(yTicks).tickFormat(""), `translate(${left + w},0)`]
  ];
  ax.forEach(([a, tr]) => {
    const ag = g.append("g").attr("transform", tr)
      .call(a.tickSizeInner(-tick).tickSizeOuter(0).tickPadding(6));
    ag.select(".domain").remove();
    ag.selectAll("line").attr("stroke", "#000").attr("stroke-width", 1);
    ag.selectAll("text").attr("font-family", FONT).attr("font-size", FS).attr("fill", "#000");
  });
  g.append("rect").attr("x", left).attr("y", top).attr("width", w).attr("height", h)
    .attr("fill", "none").attr("stroke", "#000").attr("stroke-width", 1.3);

  g.append("text").attr("x", left + w / 2).attr("y", top - 8).attr("text-anchor", "middle")
    .attr("font-family", FONT).attr("font-size", FS).text(panelTitles[i]);
  g.append("text").attr("x", left - 73).attr("y", top - 2)
    .attr("font-family", FONT).attr("font-size", 39).text(panelLetters[i]);

  const r2 = g.append("text").attr("x", left + 6).attr("y", top + 31)
    .attr("font-family", FONT).attr("font-size", FS);
  rich(r2, [["R","n"],["2","sup"],[" = " + r2Labels[i],"n"]], FS);
  if (p.col === 0) {
    g.append("text").attr("x", left + 6).attr("y", top + 63).attr("font-family", FONT)
      .attr("font-size", FS).text("slope = " + slopeLabels[i]);
  } else {
    g.append("text").attr("x", left + w - 9).attr("y", top + h - 39).attr("text-anchor", "end")
      .attr("font-family", FONT).attr("font-size", FS).text("slope = " + slopeLabels[i]);
  }
  g.append("text").attr("x", left + w - 9).attr("y", top + h - 10).attr("text-anchor", "end")
    .attr("font-family", FONT).attr("font-size", FS).text("int. = " + intLabels[i]);

  if (p.col === 0) {
    const yl = g.append("text").attr("transform", `translate(24,${top + h / 2}) rotate(-90)`)
      .attr("text-anchor", "middle").attr("font-family", FONT).attr("font-size", 24.5);
    rich(yl, [["SIF (mW m","n"],["\u22122","sup"],[" nm","n"],["\u22121","sup"],[" sr","n"],["\u22121","sup"],[")","n"]], 24.5);
  }
});

const xl1 = svg.append("text").attr("x", 235).attr("y", 1103).attr("text-anchor", "middle")
  .attr("font-family", FONT).attr("font-size", 24);
rich(xl1, [["APAR (W m","n"],["\u22122","sup"],[")","n"]], 24);
const xl2 = svg.append("text").attr("x", 632).attr("y", 1102).attr("text-anchor", "middle")
  .attr("font-family", FONT).attr("font-size", 24);
rich(xl2, [["GPP (","n"],["\u03bc","it"],["mol CO","n"],["2","sub"],[" m","n"],["\u22122","sup"],[" s","n"],["\u22121","sup"],[")","n"]], 24);

const lg = svg.append("g");
lg.append("rect").attr("x", 248).attr("y", 403).attr("width", 138).attr("height", 129)
  .attr("fill", "#fff").attr("stroke", "#000").attr("stroke-width", 1.2);
seasons.forEach((s, k) => {
  const cy = 423 + k * 30;
  lg.append("circle").attr("cx", 280).attr("cy", cy).attr("r", 4.8)
    .attr("fill", seasonColors[k]).attr("fill-opacity", 0.78);
  lg.append("text").attr("x", 300).attr("y", cy + 7).attr("font-family", FONT)
    .attr("font-size", FS).text(s);
});
</script>
</body></html>
